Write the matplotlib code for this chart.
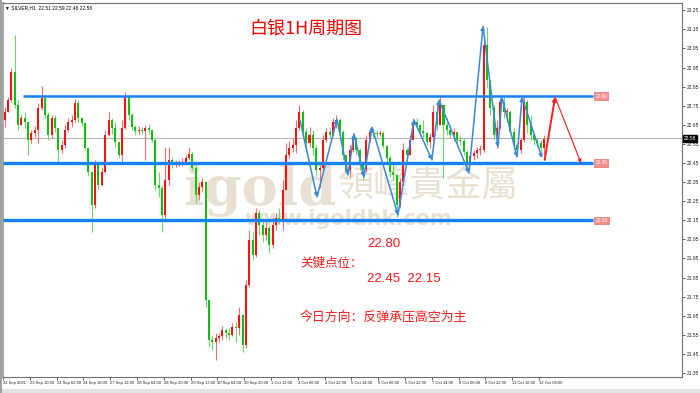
import matplotlib
matplotlib.use("Agg")
import matplotlib.pyplot as plt
from matplotlib.patches import Rectangle

plt.rcParams['font.family'] = ['Noto Sans CJK SC', 'DejaVu Sans']

# SILVER H1 candles (one candle drawn per 2 hourly bars)
first_open = 22.675
closes = [22.717, 22.780, 22.926, 22.754, 22.649, 22.686, 22.665, 22.570, 22.607, 22.623,
          22.738, 22.790, 22.701, 22.597, 22.686, 22.633, 22.518, 22.544, 22.623, 22.665,
          22.675, 22.765, 22.686, 22.659, 22.528, 22.403, 22.230, 22.440, 22.335, 22.403,
          22.597, 22.675, 22.633, 22.560, 22.492, 22.633, 22.795, 22.701, 22.638, 22.617,
          22.623, 22.617, 22.633, 22.623, 22.570, 22.335, 22.319, 22.178, 22.361, 22.466,
          22.440, 22.445, 22.450, 22.455, 22.476, 22.497, 22.424, 22.283, 22.324, 22.351,
          21.733, 21.523, 21.513, 21.534, 21.544, 21.576, 21.560, 21.549, 21.591, 21.586,
          21.654, 21.497, 21.811, 22.047, 21.968, 22.188, 22.125, 22.073, 22.110, 22.021,
          22.125, 22.162, 22.152, 22.309, 22.492, 22.528, 22.544, 22.633, 22.717, 22.612,
          22.555, 22.597, 22.528, 22.413, 22.424, 22.570, 22.612, 22.597, 22.665, 22.675,
          22.612, 22.492, 22.413, 22.518, 22.581, 22.518, 22.440, 22.413, 22.570, 22.612,
          22.607, 22.602, 22.607, 22.539, 22.476, 22.403, 22.387, 22.230, 22.351, 22.518,
          22.492, 22.570, 22.665, 22.649, 22.617, 22.607, 22.560, 22.586, 22.717, 22.649,
          22.754, 22.649, 22.623, 22.597, 22.612, 22.570, 22.565, 22.507, 22.455, 22.486,
          22.502, 22.518, 22.518, 23.068, 22.885, 22.738, 22.597, 22.633, 22.770, 22.717,
          22.717, 22.612, 22.544, 22.518, 22.570, 22.770, 22.649, 22.597, 22.570, 22.555,
          22.528, 22.576]
highs = [22.743, 22.795, 22.947, 23.120, 22.780, 22.701, 22.717, 22.665, 22.623, 22.644,
         22.765, 22.853, 22.795, 22.717, 22.701, 22.701, 22.633, 22.570, 22.649, 22.686,
         22.701, 22.785, 22.780, 22.686, 22.665, 22.528, 22.403, 22.466, 22.450, 22.424,
         22.623, 22.717, 22.686, 22.665, 22.560, 22.675, 22.822, 22.806, 22.712, 22.649,
         22.644, 22.638, 22.649, 22.654, 22.623, 22.581, 22.403, 22.330, 22.534, 22.534,
         22.481, 22.466, 22.466, 22.476, 22.492, 22.534, 22.507, 22.440, 22.351, 22.372,
         22.356, 21.733, 21.549, 21.560, 21.560, 21.596, 21.586, 21.586, 21.612, 21.617,
         21.696, 21.660, 21.837, 22.099, 22.089, 22.214, 22.204, 22.162, 22.152, 22.125,
         22.162, 22.188, 22.214, 22.361, 22.555, 22.565, 22.581, 22.675, 22.754, 22.728,
         22.633, 22.638, 22.623, 22.544, 22.440, 22.597, 22.633, 22.633, 22.686, 22.701,
         22.686, 22.623, 22.492, 22.544, 22.607, 22.586, 22.528, 22.440, 22.597, 22.633,
         22.633, 22.623, 22.623, 22.617, 22.544, 22.492, 22.450, 22.392, 22.372, 22.555,
         22.528, 22.597, 22.686, 22.686, 22.654, 22.675, 22.612, 22.607, 22.754, 22.754,
         22.795, 22.754, 22.686, 22.649, 22.633, 22.612, 22.591, 22.581, 22.518, 22.507,
         22.518, 22.534, 22.544, 23.094, 23.162, 22.885, 22.754, 22.675, 22.790, 22.795,
         22.738, 22.728, 22.633, 22.555, 22.581, 22.795, 22.780, 22.701, 22.607, 22.581,
         22.570, 22.597]
lows = [22.638, 22.717, 22.770, 22.738, 22.623, 22.649, 22.633, 22.492, 22.555, 22.586,
        22.555, 22.728, 22.686, 22.570, 22.581, 22.612, 22.455, 22.502, 22.528, 22.612,
        22.638, 22.665, 22.665, 22.644, 22.518, 22.382, 22.089, 22.214, 22.309, 22.330,
        22.398, 22.591, 22.602, 22.534, 22.476, 22.450, 22.628, 22.675, 22.623, 22.597,
        22.602, 22.602, 22.466, 22.602, 22.560, 22.309, 22.272, 22.089, 22.162, 22.335,
        22.424, 22.429, 22.434, 22.434, 22.445, 22.466, 22.413, 22.241, 22.256, 22.298,
        21.696, 21.486, 21.471, 21.418, 21.513, 21.523, 21.534, 21.523, 21.544, 21.513,
        21.549, 21.460, 21.481, 21.801, 21.942, 21.958, 22.073, 22.037, 22.047, 21.979,
        22.005, 22.099, 22.131, 22.099, 22.309, 22.476, 22.507, 22.502, 22.623, 22.586,
        22.528, 22.534, 22.492, 22.387, 22.319, 22.413, 22.560, 22.581, 22.591, 22.633,
        22.597, 22.466, 22.398, 22.377, 22.507, 22.492, 22.413, 22.361, 22.403, 22.560,
        22.586, 22.586, 22.591, 22.528, 22.455, 22.377, 22.361, 22.167, 22.214, 22.335,
        22.466, 22.492, 22.570, 22.633, 22.602, 22.581, 22.544, 22.528, 22.570, 22.623,
        22.649, 22.372, 22.597, 22.581, 22.565, 22.555, 22.544, 22.492, 22.424, 22.440,
        22.466, 22.476, 22.492, 22.507, 22.843, 22.701, 22.570, 22.528, 22.628, 22.686,
        22.665, 22.602, 22.518, 22.492, 22.502, 22.560, 22.607, 22.570, 22.544, 22.534,
        22.507, 22.492]
bar_step = 2

time_labels = ["22 Sep 2021", "23 Sep 10:00", "24 Sep 02:00", "24 Sep 18:00", "27 Sep 12:00",
               "28 Sep 04:00", "28 Sep 20:00", "29 Sep 12:00", "30 Sep 04:00", "30 Sep 20:00",
               "1 Oct 12:00", "4 Oct 06:00", "4 Oct 22:00", "5 Oct 14:00", "6 Oct 06:00",
               "6 Oct 22:00", "7 Oct 14:00", "8 Oct 06:00", "8 Oct 22:00", "11 Oct 16:00",
               "12 Oct 08:00"]
label_every = 16

levels = [22.80, 22.45, 22.15]
level_start = [10.9, -1, -1]
level_end = 351.2
last_price = 22.58
header = "\u25BC SILVER,H1  22.51 22.59 22.48 22.58"

# analysis zigzag (hour index, price)
zig_hours = [176.3, 186.5, 198.4, 205.0, 208.6, 214.5, 219.3, 234.8, 244.4, 255.1,
             259.3, 277.2, 285.6, 294.5, 296.9, 305.9, 308.9, 320.8]
zig_prices = [22.675, 22.272, 22.680, 22.387, 22.602, 22.377, 22.638, 22.178, 22.675, 22.466,
              22.780, 22.398, 23.167, 22.534, 22.795, 22.481, 22.795, 22.476]
plan_hours = [322.4, 328.6, 344.1]
plan_prices = [22.466, 22.795, 22.450]

fig = plt.figure(figsize=(7, 3.93), dpi=100)
fig.patch.set_facecolor('white')
ax = fig.add_axes([3 / 700, 16 / 393, 679 / 700, 374 / 393])
ax.set_xlim(-1, 404.4)
ax.set_ylim(21.329, 23.288)

# watermark
wm = '#E8E1D3'
ax.text(183 / 700, 1 - 205 / 393, 'igold', transform=fig.transFigure, fontsize=39,
        family='DejaVu Serif', weight='bold', color=wm, ha='left', va='baseline', zorder=0.5)
ax.text(428 / 700, 1 - 187 / 393, '領峰貴金屬', transform=fig.transFigure, fontsize=26,
        family=['Noto Sans CJK TC'], color=wm, ha='center', va='center', zorder=0.5)
ax.text(348 / 700, 1 - 219 / 393, 'www.igoldhk.com', transform=fig.transFigure, fontsize=15,
        family='DejaVu Sans', weight='bold', color=wm, ha='center', va='center', zorder=0.5)

ax.axhline(last_price, color='#B4B4B4', lw=0.8, zorder=1)

# candles
opens = [first_open] + closes[:-1]
xs = [bar_step * i for i in range(len(closes))]
body_cols, wick_cols, bottoms, heights, tops, bots = [], [], [], [], [], []
for o, c, h, l in zip(opens, closes, highs, lows):
    up = c >= o
    body_cols.append('#FF1010' if up else '#10C010')
    wick_cols.append('#F07070' if up else '#70D870')
    bottoms.append(min(o, c))
    heights.append(max(abs(c - o), 0.004))
    tops.append(max(h, o, c))
    bots.append(min(l, o, c))
ax.vlines(xs, bots, tops, colors=wick_cols, lw=0.8, zorder=2)
ax.bar(xs, heights, bottom=bottoms, width=1.2, color=body_cols, linewidth=0, zorder=3)

# horizontal levels
for lvl, x0, lw in zip(levels, level_start, [1.8, 2.4, 2.4]):
    ax.plot([x0, level_end], [lvl, lvl], color='#1482F5', lw=lw, zorder=4, solid_capstyle='butt')
    ax.text(352.6, lvl, f'{lvl:.2f}', fontsize=3.4, family='Liberation Sans', color='white',
            va='center', ha='left', zorder=5,
            bbox=dict(boxstyle='square,pad=0.25', fc='#F39090', ec='#E05A5A', lw=0.4))

# zigzag arrows
for i in range(len(zig_hours) - 1):
    ax.annotate('', xy=(zig_hours[i + 1], zig_prices[i + 1]), xytext=(zig_hours[i], zig_prices[i]),
                arrowprops=dict(arrowstyle='-|>', color='#3A88DA', lw=1.1, mutation_scale=5,
                                shrinkA=0, shrinkB=0), zorder=6)
for i, lw in zip(range(len(plan_hours) - 1), [1.4, 0.8]):
    ax.annotate('', xy=(plan_hours[i + 1], plan_prices[i + 1]), xytext=(plan_hours[i], plan_prices[i]),
                arrowprops=dict(arrowstyle='-|>', color='#FF2020', lw=lw, mutation_scale=5,
                                shrinkA=0, shrinkB=0), zorder=6)

# axes
yt = [21.35 + 0.1 * i for i in range(20)]
ax.yaxis.tick_right()
ax.set_yticks(yt)
ax.set_yticklabels([f'{v:.2f}' for v in yt], fontsize=3.5, family='Liberation Sans')
ax.set_xticks([label_every * n - 1 for n in range(len(time_labels))])
ax.set_xticklabels(time_labels, fontsize=3.0, family='Liberation Sans', ha='left')
ax.tick_params(axis='both', length=2, width=0.5, pad=1.2, colors='#202020')
for s in ['top', 'right', 'bottom']:
    ax.spines[s].set_color('#707070')
    ax.spines[s].set_linewidth(0.8)
ax.spines['left'].set_color('#A8A8A8')
ax.spines['left'].set_linewidth(1.5)

ax.text(1.003, 22.576, '22.58', transform=ax.get_yaxis_transform(), fontsize=3.5,
        family='Liberation Sans', color='white', va='center', ha='left',
        bbox=dict(boxstyle='square,pad=0.2', fc='black', ec='black'))

# texts
fig.text(5 / 700, 1 - 8 / 393, header, fontsize=3.5, family=['Liberation Sans', 'DejaVu Sans'],
         va='center', ha='left', color='black')
fig.text(306 / 700, 1 - 29 / 393, '白银1H周期图', fontsize=13, color='#FF0000', ha='center', va='center')
red = '#FF1A1A'
fig.text(367 / 700, 1 - 244 / 393, '22.80', fontsize=9.5, family='Liberation Sans', color=red, va='center')
fig.text(300 / 700, 1 - 263 / 393, '关键点位：', fontsize=9, weight='light', color=red, va='center')
fig.text(367 / 700, 1 - 279 / 393, '22.45  22.15', fontsize=9.5, family='Liberation Sans', color=red, va='center')
fig.text(300 / 700, 1 - 317 / 393, '今日方向：反弹承压高空为主', fontsize=9.3, weight='light',
         color=red, va='center')

# window edges
fig.patches.append(Rectangle((0, 0), 1, 4 / 393, transform=fig.transFigure, fc='#E2E2E2', ec='none'))
fig.patches.append(Rectangle((0, 0), 2 / 700, 1, transform=fig.transFigure, fc='#A0A0A0', ec='none'))

fig.savefig('out.png', dpi=100)
